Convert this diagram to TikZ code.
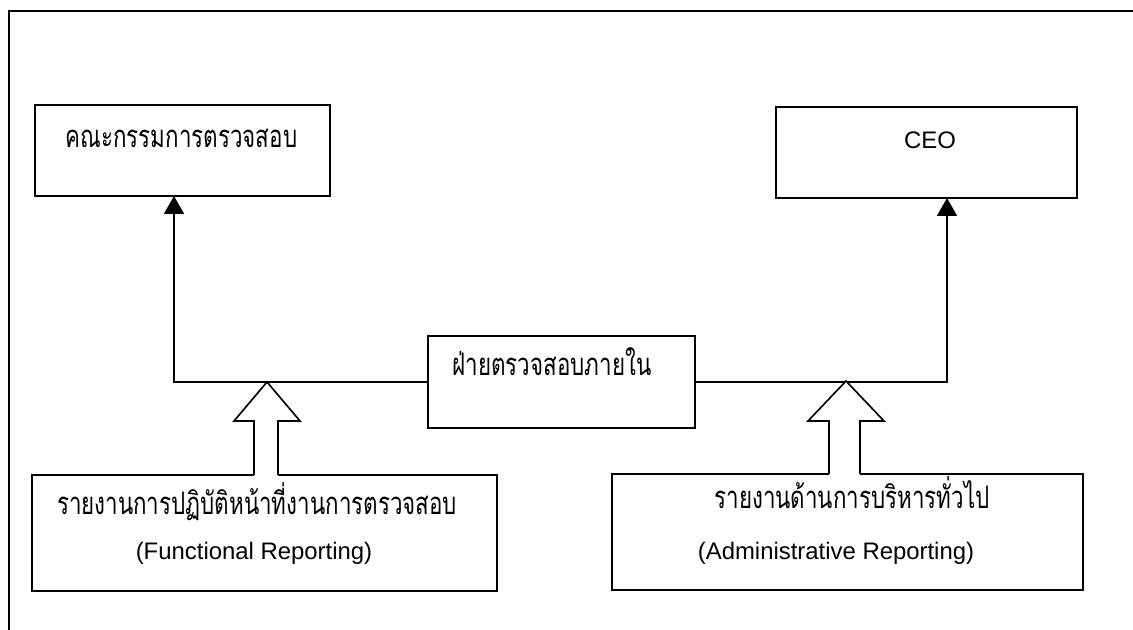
\documentclass[tikz,border=0pt]{standalone}
\usepackage{fontspec}
\setmainfont{Liberation Sans}
\newfontfamily\thaifont[Script=Thai, FakeStretch=0.72]{Loma}
\usetikzlibrary{arrows.meta}

\begin{document}
\begin{tikzpicture}
  [x=0.3mm, y=-0.3mm, line width=1.4pt,
   box/.style 2 args={draw, minimum width=#1*0.3mm, minimum height=#2*0.3mm, inner sep=0pt},
   txt/.style={inner sep=0pt, anchor=base, font=\fontsize{20.4}{25}\selectfont},
   thai/.style={inner sep=0pt, anchor=base, font=\fontsize{26.5}{30}\selectfont\thaifont},
   conn/.style={-{Triangle[width=6mm, length=5.4mm]}}]
  \useasboundingbox (0,0) rectangle (1133,630);
  % frame, cut off at right and bottom
  \begin{scope}
    \clip (0,0) rectangle (1133,630);
    \draw (9,11) rectangle (1200,700);
  \end{scope}

  % boxes
  \node [box={295}{91}] (ac)  at (182.5,150.5) {};
  \node [box={301}{91}] (ceo) at (926.5,152.5) {};
  \node [box={267}{92}] (mid) at (561.5,382) {};
  \node [box={465}{116}] (fr) at (264.5,533) {};
  \node [box={471}{116}] (ad) at (847.5,532) {};

  % texts
  \node [thai] (ac text)  at (181.5,148) {คณะกรรมการตรวจสอบ};
  \node [txt]  (ceo text) at (930,149) {CEO};
  \node [thai] (mid text) at (552,376) {ฝ่ายตรวจสอบภายใน};
  \node [thai] (fr th) at (257,514) {รายงานการปฏิบัติหน้าที่งานการตรวจสอบ};
  \node [txt]  (fr en) at (254,559) {(Functional Reporting)};
  \node [thai] (ad th) at (852,508) {รายงานด้านการบริหารทั่วไป};
  \node [txt]  (ad en) at (836,559) {(Administrative Reporting)};

  % reporting lines
  \coordinate (ac in)  at (174,196);
  \coordinate (ceo in) at (947,198);
  \draw [conn] (mid.west) -| (ac in);
  \draw [conn] (mid.east) -| (ceo in);

  % hollow arrows
  \fill [white] (254,478) -- (254,421) -- (234,421) -- (267,382) -- (300,421) -- (278,421) -- (278,478) -- cycle;
  \draw (254,475) -- (254,421) -- (234,421) -- (267,382) -- (300,421) -- (278,421) -- (278,475);
  \fill [white] (829,477) -- (829,421) -- (808,421) -- (846,381) -- (884,421) -- (860,421) -- (860,477) -- cycle;
  \draw (829,474) -- (829,421) -- (808,421) -- (846,381) -- (884,421) -- (860,421) -- (860,474);
\end{tikzpicture}
\end{document}
